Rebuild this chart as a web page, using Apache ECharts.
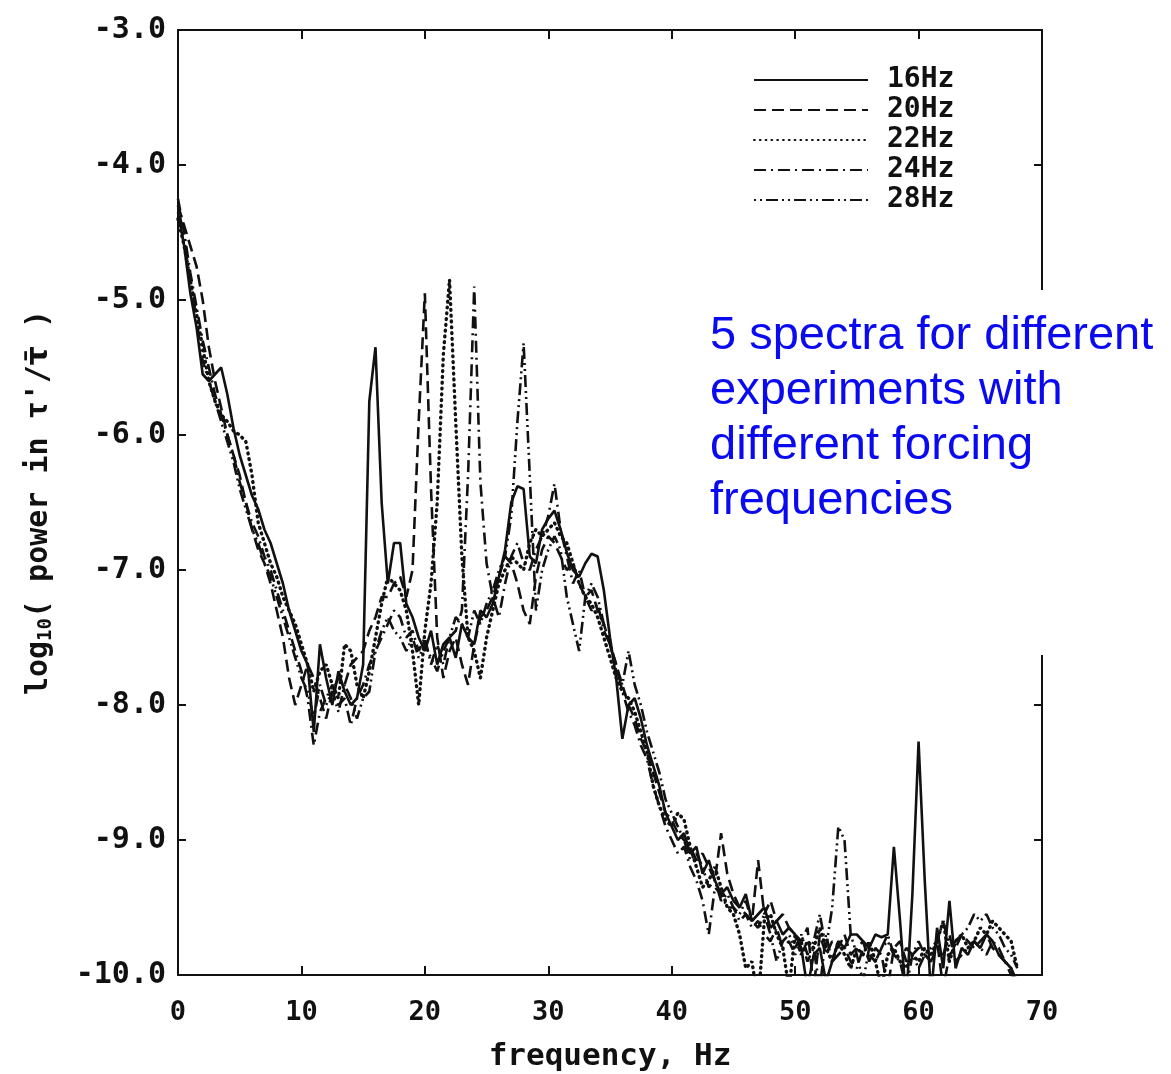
<!DOCTYPE html>
<html>
<head>
<meta charset="utf-8">
<script src="https://cdn.jsdelivr.net/npm/echarts@6/dist/echarts.min.js"></script>
<style>
html,body{margin:0;padding:0;background:#fff;}
#chart{width:1171px;height:1074px;}
</style>
</head>
<body>
<div id="chart"></div>
<script>
// frequency grid (Hz), 0 .. 68 in 0.5 Hz steps
const freq = [];
for (let k = 0; k <= 136; k++) freq.push(k / 2);

const xTicks = [0, 10, 20, 30, 40, 50, 60, 70];
const yTicks = [-10, -9, -8, -7, -6, -5, -4, -3];
const seriesNames = ['16Hz', '20Hz', '22Hz', '24Hz', '28Hz'];

// log10 power values, one per freq entry
const s16 = [
-4.35,-4.6,-4.95,-5.2,-5.55,-5.6,-5.55,-5.5,-5.7,-5.95,
-6.15,-6.3,-6.45,-6.55,-6.7,-6.8,-6.95,-7.1,-7.3,-7.45,
-7.6,-7.7,-8.2,-7.55,-7.8,-8.0,-7.75,-7.9,-8.0,-7.95,
-7.7,-5.75,-5.35,-6.5,-7.1,-6.8,-6.8,-7.25,-7.35,-7.5,
-7.6,-7.45,-7.7,-7.55,-7.5,-7.65,-7.4,-7.5,-7.55,-7.3,
-7.35,-7.25,-7.05,-6.85,-6.5,-6.38,-6.4,-6.9,-6.95,-6.7,
-6.62,-6.56,-6.7,-6.87,-7.0,-7.05,-6.95,-6.88,-6.9,-7.15,
-7.5,-7.8,-8.25,-8.0,-7.95,-8.1,-8.3,-8.45,-8.6,-8.8,
-8.9,-9.0,-8.95,-9.1,-9.05,-9.25,-9.15,-9.3,-9.4,-9.35,
-9.45,-9.5,-9.4,-9.6,-9.55,-9.5,-9.65,-9.6,-9.7,-9.65,
-9.7,-9.8,-10.1,-9.85,-9.8,-10.05,-9.9,-9.75,-9.8,-9.7,
-9.7,-9.75,-9.8,-9.7,-9.72,-9.7,-9.05,-9.6,-10.2,-9.4,
-8.27,-9.3,-10.15,-9.65,-9.95,-9.45,-9.95,-9.8,-9.85,-9.75,
-9.8,-9.7,-9.75,-9.85,-9.9,-9.95,-10.1
];
const s20 = [
-4.3,-4.45,-4.6,-4.75,-5.0,-5.35,-5.6,-5.8,-6.0,-6.15,
-6.3,-6.5,-6.7,-6.85,-6.95,-7.1,-7.3,-7.5,-7.8,-8.0,
-7.85,-7.7,-7.8,-7.95,-8.1,-7.9,-7.8,-7.85,-7.7,-7.65,
-7.6,-7.45,-7.35,-7.2,-7.2,-7.1,-7.05,-7.2,-7.0,-5.9,
-4.95,-6.4,-7.5,-7.8,-7.6,-7.5,-7.7,-7.85,-7.55,-7.35,
-7.3,-7.2,-7.05,-6.9,-6.95,-7.1,-7.3,-7.4,-7.05,-6.85,
-6.75,-6.8,-6.9,-7.0,-6.95,-7.1,-7.2,-7.15,-7.3,-7.4,
-7.55,-7.7,-7.85,-8.0,-8.1,-8.25,-8.35,-8.5,-8.65,-8.8,
-8.85,-8.95,-9.0,-9.05,-9.15,-9.1,-9.2,-9.3,-8.95,-9.25,
-9.4,-9.5,-9.55,-9.6,-9.15,-9.55,-9.45,-9.6,-9.55,-9.65,
-9.7,-9.75,-9.65,-10.1,-9.7,-9.85,-9.75,-9.8,-9.7,-9.85,
-9.8,-9.75,-9.9,-9.8,-9.85,-10.1,-9.8,-9.75,-9.9,-9.85,
-9.8,-9.85,-9.9,-9.75,-10.1,-9.85,-9.8,-9.7,-9.75,-9.8,
-9.75,-9.7,-9.8,-9.85,-9.9,-10.0,-10.1
];
const s22 = [
-4.4,-4.6,-4.85,-5.1,-5.35,-5.6,-5.75,-5.85,-5.9,-5.97,
-6.0,-6.05,-6.3,-6.65,-6.8,-6.95,-7.05,-7.2,-7.3,-7.4,
-7.55,-7.7,-7.9,-7.75,-7.7,-7.85,-7.95,-7.55,-7.6,-7.85,
-7.95,-7.75,-7.5,-7.25,-7.05,-7.1,-7.15,-7.3,-7.6,-8.0,
-7.45,-7.1,-6.5,-5.4,-4.85,-5.9,-6.9,-7.5,-7.6,-7.8,
-7.5,-7.3,-7.1,-7.0,-6.9,-6.95,-7.0,-6.8,-6.7,-6.75,
-6.7,-6.65,-6.75,-6.8,-6.95,-7.1,-7.2,-7.25,-7.35,-7.5,
-7.65,-7.8,-7.9,-7.95,-8.05,-8.2,-8.35,-8.6,-8.75,-8.85,
-8.9,-8.8,-8.85,-9.05,-9.2,-9.35,-9.3,-9.2,-9.35,-9.5,
-9.55,-9.7,-9.95,-9.9,-10.2,-9.6,-9.55,-9.7,-9.8,-10.1,
-9.7,-9.85,-9.75,-9.8,-9.65,-9.8,-9.9,-9.75,-9.85,-9.95,
-9.8,-9.85,-9.75,-9.9,-10.1,-9.85,-9.8,-9.9,-9.95,-9.85,
-9.9,-9.8,-9.85,-9.75,-9.6,-9.9,-9.75,-9.7,-9.8,-9.75,
-9.65,-9.7,-9.6,-9.65,-9.7,-9.75,-9.95
];
const s24 = [
-4.25,-4.5,-4.8,-5.05,-5.3,-5.5,-5.7,-5.85,-6.0,-6.15,
-6.35,-6.5,-6.65,-6.75,-6.9,-7.0,-7.15,-7.3,-7.45,-7.6,
-7.75,-7.95,-8.3,-8.05,-7.95,-7.85,-8.0,-7.95,-8.15,-7.95,
-7.85,-7.7,-7.6,-7.5,-7.4,-7.3,-7.35,-7.5,-7.45,-7.6,
-7.5,-7.7,-7.55,-7.7,-7.5,-7.45,-7.3,-6.3,-4.9,-6.35,
-6.95,-7.2,-7.35,-7.1,-6.9,-6.8,-6.95,-7.0,-6.85,-6.75,
-6.6,-6.36,-6.7,-6.9,-7.1,-7.0,-7.2,-7.3,-7.25,-7.45,
-7.55,-7.7,-7.9,-8.05,-8.15,-8.3,-8.4,-8.6,-8.75,-8.9,
-9.0,-9.1,-9.05,-9.2,-9.3,-9.45,-9.7,-9.35,-9.4,-9.5,
-9.5,-9.6,-9.55,-9.65,-9.6,-9.7,-9.75,-9.65,-9.8,-9.75,
-9.85,-9.75,-9.9,-9.8,-10.1,-9.7,-9.9,-9.85,-9.8,-9.9,
-9.95,-9.8,-9.85,-9.9,-9.8,-9.7,-9.85,-9.9,-10.1,-9.85,
-9.75,-9.85,-9.9,-9.8,-9.85,-9.7,-9.9,-9.85,-9.8,-9.75,
-9.8,-9.85,-9.75,-9.8,-9.9,-9.95,-10.05
];
const s28 = [
-4.3,-4.55,-4.85,-5.15,-5.45,-5.6,-5.75,-5.9,-6.05,-6.2,
-6.4,-6.55,-6.7,-6.8,-6.95,-7.05,-7.2,-7.35,-7.5,-7.65,
-7.8,-7.9,-8.1,-7.85,-8.0,-7.9,-8.05,-7.85,-7.95,-8.1,
-7.95,-7.9,-7.6,-7.45,-7.35,-7.45,-7.5,-7.6,-7.5,-7.65,
-7.55,-7.65,-7.75,-7.6,-7.5,-7.35,-7.4,-7.5,-7.3,-7.4,
-7.25,-7.15,-7.0,-6.9,-6.6,-5.9,-5.32,-6.3,-7.3,-7.0,
-6.85,-6.75,-6.85,-7.2,-7.4,-7.6,-7.2,-7.1,-7.2,-7.4,
-7.55,-7.75,-7.85,-7.6,-7.85,-8.0,-8.2,-8.35,-8.5,-8.7,
-8.8,-8.9,-9.0,-9.15,-9.1,-9.2,-9.35,-9.3,-9.45,-9.4,
-9.5,-9.55,-9.45,-9.6,-9.65,-9.55,-9.7,-9.9,-9.75,-9.7,
-9.8,-9.7,-9.85,-9.75,-9.55,-9.8,-9.5,-8.9,-9.0,-9.7,
-9.85,-10.05,-9.8,-9.9,-9.8,-9.75,-9.85,-9.9,-9.8,-9.85,
-9.95,-9.85,-9.8,-9.75,-9.6,-9.8,-9.75,-9.7,-9.65,-9.55,
-9.6,-9.55,-9.65,-9.7,-9.8,-9.85,-9.95
];

const values = [s16, s20, s22, s24, s28];
const dashes = ['solid', [12, 6], [0.8, 5], [12, 5, 2, 5], [2, 4, 2, 4, 12, 4]];

const MONO = '"DejaVu Sans Mono", "Liberation Mono", monospace';
const INK = '#111';

const chart = echarts.init(document.getElementById('chart'), null, {renderer: 'canvas'});

const axisCommon = {
  min: 0, max: 70, interval: 10,
  axisLine: {show: true, onZero: false, lineStyle: {color: INK, width: 2}},
  axisTick: {show: true, inside: true, length: 9, lineStyle: {color: INK, width: 2}},
  splitLine: {show: false}
};

const option = {
  animation: false,
  backgroundColor: '#fff',
  grid: {left: 178, right: 129, top: 30, bottom: 99, containLabel: false, outerBoundsMode: 'none'},
  legend: {
    orient: 'vertical',
    left: 748, top: 61,
    itemWidth: 114, itemHeight: 14, itemGap: 2,
    selectedMode: false,
    data: seriesNames,
    itemStyle: {opacity: 0, color: 'rgba(0,0,0,0)', borderWidth: 0},
    textStyle: {fontFamily: MONO, fontWeight: 'bold', fontSize: 28, lineHeight: 28, color: INK, padding: [0, 0, 0, 14]}
  },
  xAxis: [
    Object.assign({}, axisCommon, {
      type: 'value', position: 'bottom',
      name: 'frequency, Hz', nameLocation: 'middle', nameGap: 66,
      nameTextStyle: {fontFamily: MONO, fontWeight: 'bold', fontSize: 31, color: INK},
      axisLabel: {show: true, customValues: xTicks, fontFamily: MONO, fontWeight: 'bold', fontSize: 27, color: INK, margin: 24,
        showMinLabel: true, showMaxLabel: true},
      axisTick: Object.assign({}, axisCommon.axisTick, {customValues: xTicks})
    }),
    Object.assign({}, axisCommon, {
      type: 'value', position: 'top',
      axisLabel: {show: false}
    })
  ],
  yAxis: [
    {
      type: 'value', position: 'left', min: -10, max: -3, interval: 1,
      axisLine: {show: true, onZero: false, lineStyle: {color: INK, width: 2}},
      axisTick: {show: true, inside: true, length: 8, lineStyle: {color: INK, width: 2}},
      splitLine: {show: false},
      axisLabel: {fontFamily: MONO, fontWeight: 'bold', fontSize: 30, color: INK, margin: 12,
        showMinLabel: true, showMaxLabel: true,
        formatter: v => v.toFixed(1)},
      name: 'log{s|10}( power in τ\'/{t|τ̄} )', nameLocation: 'middle', nameGap: 122,
      nameTextStyle: {fontFamily: MONO, fontWeight: 'bold', fontSize: 30, color: INK,
        rich: {
          s: {fontFamily: MONO, fontWeight: 'bold', fontSize: 19, color: INK, padding: [14, 0, 0, 0]},
          t: {fontFamily: '"DejaVu Sans", sans-serif', fontWeight: 'bold', fontSize: 30, color: INK}
        }}
    },
    {
      type: 'value', position: 'right', min: -10, max: -3, interval: 1,
      axisLine: {show: true, onZero: false, lineStyle: {color: INK, width: 2}},
      axisTick: {show: true, inside: true, length: 8, lineStyle: {color: INK, width: 2}},
      splitLine: {show: false},
      axisLabel: {show: false}
    }
  ],
  series: seriesNames.map((name, i) => ({
    name: name,
    type: 'line',
    xAxisIndex: 0, yAxisIndex: 0,
    symbol: 'none',
    smooth: false,
    clip: true,
    lineStyle: {color: INK, width: i === 2 ? 3.4 : 2.6, type: dashes[i], cap: i === 2 ? 'round' : 'butt'},
    itemStyle: {color: INK},
    data: freq.map((f, k) => [f, values[i][k]])
  })),
  graphic: [
    {type: 'rect', z: 100, shape: {x: 1028, y: 290, width: 30, height: 365}, style: {fill: '#fff'}},
    {
      type: 'text', z: 101, left: 710, top: 309,
      style: {
        text: '5 spectra for different\nexperiments with\ndifferent forcing\nfrequencies',
        fill: '#0a0af0',
        fontFamily: '"Liberation Sans", Arial, sans-serif',
        fontSize: 47, lineHeight: 55
      }
    }
  ]
};

chart.setOption(option);
</script>
</body>
</html>
